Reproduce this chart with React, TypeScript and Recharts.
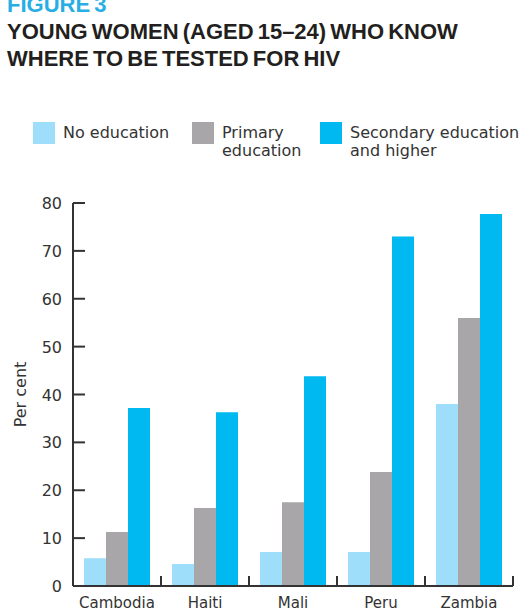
// Young women (15-24) who know where to be tested for HIV — grouped bars

import React from 'react';
import { BarChart, Bar, XAxis, YAxis } from 'recharts';

// ── data ──

const COUNTRIES = ['Cambodia', 'Haiti', 'Mali', 'Peru', 'Zambia'];
const NO_EDUCATION = [5.8, 4.6, 7.1, 7.1, 38];
const PRIMARY = [11.3, 16.3, 17.5, 23.8, 56];
const SECONDARY = [37.2, 36.3, 43.8, 73, 77.7];
const Y_TICKS = [0, 10, 20, 30, 40, 50, 60, 70, 80];

const SERIES = [
  { key: 'none', lines: ['No education'], color: '#9fdefb' },
  { key: 'primary', lines: ['Primary', 'education'], color: '#a8a6a9' },
  { key: 'secondary', lines: ['Secondary education', 'and higher'], color: '#00b9f1' },
];

const rows = COUNTRIES.map((c, i) => ({
  country: c,
  none: NO_EDUCATION[i],
  primary: PRIMARY[i],
  secondary: SECONDARY[i],
}));

const FONT = '"DejaVu Sans", sans-serif';
const AXIS = '#333333';

// ── ticks ──

function YTick(props: any) {
  const { x, y, payload } = props;
  return (
    <g>
      <line x1={x + 11} x2={x + 23} y1={y} y2={y} stroke={AXIS} strokeWidth={2} />
      <text x={x} y={y} dy={6} textAnchor="end" fontSize={16} fontFamily={FONT} fill={AXIS}>
        {payload.value}
      </text>
    </g>
  );
}

function XTick(props: any) {
  const { x, y, payload } = props;
  const half = payload.offset ?? 44;
  return (
    <g>
      <line x1={x + half} x2={x + half} y1={y - 10} y2={y} stroke={AXIS} strokeWidth={2} />
      <text x={x} y={y + 22} textAnchor="middle" fontSize={15} fontFamily={FONT} fill={AXIS}>
        {payload.value}
      </text>
    </g>
  );
}

// ── main ──

export default function App() {
  return (
    <div style={{ position: 'absolute', left: 0, top: 0, width: 525, height: 613, overflow: 'hidden', background: '#fff' }}>
      {/* title */}
      <div
        style={{
          position: 'absolute',
          left: 7,
          top: -9,
          fontFamily: '"Liberation Sans", Arial, sans-serif',
          fontWeight: 700,
          fontSize: 22,
          lineHeight: '27px',
          letterSpacing: 0,
          wordSpacing: -2,
          color: '#231f20',
          whiteSpace: 'nowrap',
        }}
      >
        <div style={{ color: '#27aee4' }}>FIGURE 3</div>
        <div>YOUNG WOMEN (AGED 15–24) WHO KNOW</div>
        <div>WHERE TO BE TESTED FOR HIV</div>
      </div>

      {/* legend */}
      {SERIES.map((s, i) => {
        const left = [33, 192, 320][i];
        return (
          <div key={s.key} style={{ position: 'absolute', left, top: 122, display: 'flex', gap: 8 }}>
            <div style={{ width: 22, height: 22, background: s.color, flex: 'none' }} />
            <div
              style={{
                fontFamily: FONT,
                fontSize: 16,
                lineHeight: '18px',
                color: '#333',
                whiteSpace: 'nowrap',
                marginTop: 2,
              }}
            >
              {s.lines.map((l) => (
                <div key={l}>{l}</div>
              ))}
            </div>
          </div>
        );
      })}

      {/* chart */}
      <div style={{ position: 'absolute', left: 0, top: 190 }}>
        <BarChart
          width={525}
          height={423}
          data={rows}
          margin={{ top: 13, right: 12, bottom: 0, left: 0 }}
          barCategoryGap="12.5%"
          barGap={0}
        >
          <XAxis
            dataKey="country"
            height={27}
            tickSize={0}
            tickMargin={0}
            axisLine={{ stroke: AXIS, strokeWidth: 2 }}
            tickLine={false}
            tick={<XTick />}
            interval={0}
          />
          <YAxis
            width={73}
            domain={[0, 80]}
            ticks={Y_TICKS}
            tickSize={0}
            tickMargin={11}
            axisLine={{ stroke: AXIS, strokeWidth: 2 }}
            tickLine={false}
            tick={<YTick />}
            label={{
              value: 'Per cent',
              angle: -90,
              position: 'insideLeft',
              offset: 20,
              style: { fontFamily: FONT, fontSize: 16, fill: AXIS, textAnchor: 'middle' },
            }}
          />
          {SERIES.map((s) => (
            <Bar key={s.key} dataKey={s.key} fill={s.color} isAnimationActive={false} />
          ))}
        </BarChart>
      </div>
    </div>
  );
}
